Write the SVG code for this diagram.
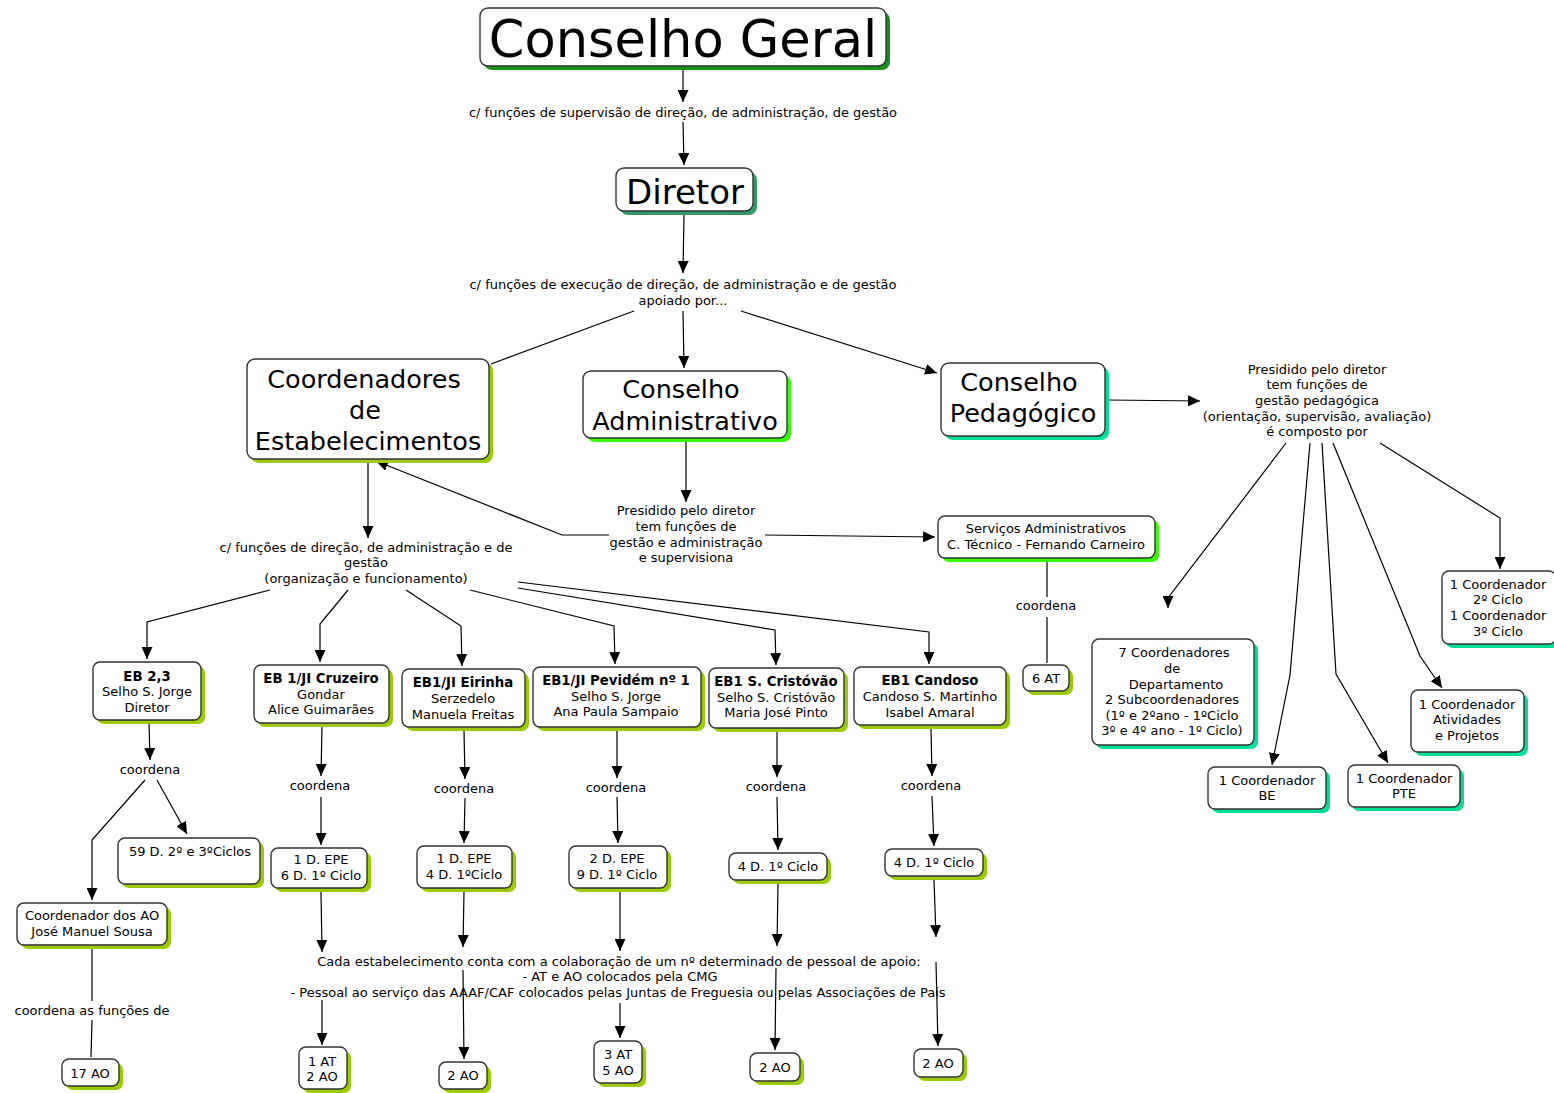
<svg xmlns="http://www.w3.org/2000/svg" width="1554" height="1093" viewBox="0 0 1554 1093">
<defs>
<marker id="ah" markerUnits="userSpaceOnUse" markerWidth="12" markerHeight="11" refX="12" refY="5.5" orient="auto">
<path d="M0,0 L12,5.5 L0,11 z" fill="#000"/>
</marker>
<style>
rect.b{fill:#fff;stroke:#333;stroke-width:1.4}
.s1{fill:#1a8f1a}.s2{fill:#339966}.s3{fill:#99cc00}.s4{fill:#33ff00}.s5{fill:#00dd99}
text{font-family:"DejaVu Sans","Liberation Sans",sans-serif;fill:#000;text-anchor:middle;font-size:13px}
.bd{font-weight:bold;font-size:13.3px}
.lg{font-size:25.5px}
#links path{fill:none;stroke:#000;stroke-width:1.2}
#links path.a{marker-end:url(#ah)}
</style>
</defs>
<rect width="1554" height="1093" fill="#fff"/>
<g id="links">
<path class="a" d="M683,66 L683,102"/>
<path class="a" d="M683,122 L684,165"/>
<path class="a" d="M684,214 L683,273"/>
<path d="M634,311 L491,364"/>
<path class="a" d="M683,311 L684,368"/>
<path class="a" d="M741,311 L937,373"/>
<path class="a" d="M1108,400 L1200,401"/>
<path class="a" d="M1286,443 L1168,598 L1168,608"/>
<path class="a" d="M1310,443 L1290,675 L1272,765"/>
<path class="a" d="M1322,443 L1336,674 L1388,763"/>
<path class="a" d="M1333,443 L1420,656 L1442,688"/>
<path class="a" d="M1380,443 L1500,518 L1500,569"/>
<path class="a" d="M686,441 L686,502"/>
<path class="a" d="M609,535 L562,535 L376,461"/>
<path class="a" d="M765,535 L935,537"/>
<path d="M1047,562 L1047,597"/>
<path d="M1047,617 L1047,663"/>
<path class="a" d="M368,462 L368,538"/>
<path class="a" d="M270,590 L147,622 L147,659"/>
<path class="a" d="M348,590 L320,624 L320,662"/>
<path class="a" d="M406,590 L461,626 L462,666"/>
<path class="a" d="M470,590 L614,626 L615,664"/>
<path class="a" d="M518,588 L775,630 L776,665"/>
<path class="a" d="M518,582 L929,632 L929,664"/>
<path class="a" d="M149,722 L150,760"/>
<path class="a" d="M145,780 L92,840 L92,900"/>
<path class="a" d="M157,780 L187,834"/>
<path d="M92,948 L92,1001"/>
<path d="M92,1020 L91,1057"/>
<path class="a" d="M322,726 L321,776"/>
<path class="a" d="M321,797 L321,845"/>
<path class="a" d="M321,892 L322,952"/>
<path class="a" d="M322,1000 L322,1045"/>
<path class="a" d="M464,731 L465,779"/>
<path class="a" d="M465,798 L464,843"/>
<path class="a" d="M464,892 L463,947"/>
<path class="a" d="M463,970 L464,1059"/>
<path class="a" d="M617,731 L617,778"/>
<path class="a" d="M617,797 L618,843"/>
<path class="a" d="M620,891 L620,951"/>
<path class="a" d="M620,1003 L620,1038"/>
<path class="a" d="M777,731 L777,777"/>
<path class="a" d="M777,797 L778,850"/>
<path class="a" d="M778,884 L777,946"/>
<path class="a" d="M776,968 L775,1050"/>
<path class="a" d="M931,729 L932,776"/>
<path class="a" d="M932,796 L934,846"/>
<path class="a" d="M934,880 L936,937"/>
<path class="a" d="M936,962 L938,1046"/>
</g>
<g id="labels">
<text x="683" y="117">c/ funções de supervisão de direção, de administração, de gestão</text>
<text x="683" y="289">c/ funções de execução de direção, de administração e de gestão</text>
<text x="683" y="305">apoiado por...</text>
<text x="686" y="515">Presidido pelo diretor</text>
<text x="686" y="531">tem funções de</text>
<text x="686" y="547">gestão e administração</text>
<text x="686" y="562">e supervisiona</text>
<text x="366" y="552">c/ funções de direção, de administração e de</text>
<text x="366" y="567">gestão</text>
<text x="366" y="583">(organização e funcionamento)</text>
<text x="1317" y="374">Presidido pelo diretor</text>
<text x="1317" y="389">tem funções de</text>
<text x="1317" y="405">gestão pedagógica</text>
<text x="1317" y="421">(orientação, supervisão, avaliação)</text>
<text x="1317" y="436">é composto por</text>
<text x="1046" y="610">coordena</text>
<text x="150" y="774">coordena</text>
<text x="320" y="790">coordena</text>
<text x="464" y="793">coordena</text>
<text x="616" y="792">coordena</text>
<text x="776" y="791">coordena</text>
<text x="931" y="790">coordena</text>
<text x="92" y="1015">coordena as funções de</text>
<text x="619" y="966">Cada estabelecimento conta com a colaboração de um nº determinado de pessoal de apoio:</text>
<text x="620" y="981">- AT e AO colocados pela CMG</text>
<text x="618" y="997">- Pessoal ao serviço das AAAF/CAF colocados pelas Juntas de Freguesia ou pelas Associações de Pais</text>
</g>
<g id="n-cg"><rect class="s1" x="484" y="12" width="406" height="58" rx="8"/><rect class="b" x="480" y="8" width="406" height="58" rx="8"/><text x="683" y="57" style="font-size:51px">Conselho Geral</text></g>
<g id="n-dir"><rect class="s2" x="620" y="172" width="137" height="43" rx="8"/><rect class="b" x="616" y="168" width="137" height="43" rx="8"/><text x="685" y="204" style="font-size:34px">Diretor</text></g>
<g id="n-ce"><rect class="s3" x="251" y="363" width="242" height="100" rx="8"/><rect class="b" x="247" y="359" width="242" height="100" rx="8"/><text class="lg" x="364" y="388">Coordenadores</text><text class="lg" x="365" y="419">de</text><text class="lg" x="368" y="450">Estabelecimentos</text></g>
<g id="n-ca"><rect class="s4" x="587" y="375" width="204" height="67" rx="8"/><rect class="b" x="583" y="371" width="204" height="67" rx="8"/><text class="lg" x="681" y="398">Conselho</text><text class="lg" x="685" y="430">Administrativo</text></g>
<g id="n-cp"><rect class="s5" x="945" y="367" width="164" height="73" rx="8"/><rect class="b" x="941" y="363" width="164" height="73" rx="8"/><text class="lg" x="1019" y="391">Conselho</text><text class="lg" x="1023" y="422">Pedagógico</text></g>
<g id="n-sa"><rect class="s4" x="942" y="520" width="217" height="42" rx="7"/><rect class="b" x="938" y="516" width="217" height="42" rx="7"/><text x="1046" y="533">Serviços Administrativos</text><text x="1046" y="549">C. Técnico - Fernando Carneiro</text></g>
<g id="n-6at"><rect class="s3" x="1027" y="669" width="46" height="26" rx="7"/><rect class="b" x="1023" y="665" width="46" height="26" rx="7"/><text x="1046" y="683">6 AT</text></g>
<g id="n-eb23"><rect class="s3" x="97" y="666" width="108" height="58" rx="7"/><rect class="b" x="93" y="662" width="108" height="58" rx="7"/><text class="bd" x="147" y="681">EB 2,3</text><text x="147" y="696">Selho S. Jorge</text><text x="147" y="712">Diretor</text></g>
<g id="n-cruz"><rect class="s3" x="258" y="669" width="135" height="58" rx="7"/><rect class="b" x="254" y="665" width="135" height="58" rx="7"/><text class="bd" x="321" y="683">EB 1/JI Cruzeiro</text><text x="321" y="699">Gondar</text><text x="321" y="714">Alice Guimarães</text></g>
<g id="n-eir"><rect class="s3" x="406" y="673" width="123" height="58" rx="7"/><rect class="b" x="402" y="669" width="123" height="58" rx="7"/><text class="bd" x="463" y="687">EB1/JI Eirinha</text><text x="463" y="703">Serzedelo</text><text x="463" y="719">Manuela Freitas</text></g>
<g id="n-pev"><rect class="s3" x="537" y="671" width="168" height="60" rx="7"/><rect class="b" x="533" y="667" width="168" height="60" rx="7"/><text class="bd" x="616" y="685">EB1/JI Pevidém nº 1</text><text x="616" y="701">Selho S. Jorge</text><text x="616" y="716">Ana Paula Sampaio</text></g>
<g id="n-cri"><rect class="s3" x="713" y="672" width="135" height="60" rx="7"/><rect class="b" x="709" y="668" width="135" height="60" rx="7"/><text class="bd" x="776" y="686">EB1 S. Cristóvão</text><text x="776" y="702">Selho S. Cristóvão</text><text x="776" y="717">Maria José Pinto</text></g>
<g id="n-can"><rect class="s3" x="858" y="671" width="152" height="58" rx="7"/><rect class="b" x="854" y="667" width="152" height="58" rx="7"/><text class="bd" x="930" y="685">EB1 Candoso</text><text x="930" y="701">Candoso S. Martinho</text><text x="930" y="717">Isabel Amaral</text></g>
<g id="n-59d"><rect class="s3" x="122" y="842" width="142" height="46" rx="7"/><rect class="b" x="118" y="838" width="142" height="46" rx="7"/><text x="190" y="856">59 D. 2º e 3ºCiclos</text></g>
<g id="n-cao"><rect class="s3" x="21" y="907" width="150" height="42" rx="7"/><rect class="b" x="17" y="903" width="150" height="42" rx="7"/><text x="92" y="920">Coordenador dos AO</text><text x="92" y="936">José Manuel Sousa</text></g>
<g id="n-d1"><rect class="s3" x="275" y="852" width="96" height="40" rx="7"/><rect class="b" x="271" y="848" width="96" height="40" rx="7"/><text x="321" y="864">1 D. EPE</text><text x="321" y="880">6 D. 1º Ciclo</text></g>
<g id="n-d2"><rect class="s3" x="421" y="850" width="95" height="42" rx="7"/><rect class="b" x="417" y="846" width="95" height="42" rx="7"/><text x="464" y="863">1 D. EPE</text><text x="464" y="879">4 D. 1ºCiclo</text></g>
<g id="n-d3"><rect class="s3" x="573" y="850" width="98" height="42" rx="7"/><rect class="b" x="569" y="846" width="98" height="42" rx="7"/><text x="617" y="863">2 D. EPE</text><text x="617" y="879">9 D. 1º Ciclo</text></g>
<g id="n-d4"><rect class="s3" x="733" y="857" width="98" height="27" rx="7"/><rect class="b" x="729" y="853" width="98" height="27" rx="7"/><text x="778" y="871">4 D. 1º Ciclo</text></g>
<g id="n-d5"><rect class="s3" x="889" y="853" width="98" height="27" rx="7"/><rect class="b" x="885" y="849" width="98" height="27" rx="7"/><text x="934" y="867">4 D. 1º Ciclo</text></g>
<g id="n-p1"><rect class="s3" x="303" y="1051" width="48" height="42" rx="7"/><rect class="b" x="299" y="1047" width="48" height="42" rx="7"/><text x="322" y="1066">1 AT</text><text x="322" y="1081">2 AO</text></g>
<g id="n-p2"><rect class="s3" x="443" y="1066" width="48" height="27" rx="7"/><rect class="b" x="439" y="1062" width="48" height="27" rx="7"/><text x="463" y="1080">2 AO</text></g>
<g id="n-p3"><rect class="s3" x="598" y="1045" width="48" height="42" rx="7"/><rect class="b" x="594" y="1041" width="48" height="42" rx="7"/><text x="618" y="1059">3 AT</text><text x="618" y="1075">5 AO</text></g>
<g id="n-p4"><rect class="s3" x="754" y="1057" width="50" height="28" rx="7"/><rect class="b" x="750" y="1053" width="50" height="28" rx="7"/><text x="775" y="1072">2 AO</text></g>
<g id="n-p5"><rect class="s3" x="918" y="1053" width="49" height="28" rx="7"/><rect class="b" x="914" y="1049" width="49" height="28" rx="7"/><text x="938" y="1068">2 AO</text></g>
<g id="n-17ao"><rect class="s3" x="66" y="1063" width="57" height="27" rx="7"/><rect class="b" x="62" y="1059" width="57" height="27" rx="7"/><text x="90" y="1078">17 AO</text></g>
<g id="n-7c"><rect class="s5" x="1096" y="643" width="162" height="106" rx="7"/><rect class="b" x="1092" y="639" width="162" height="106" rx="7"/><text x="1174" y="657">7 Coordenadores</text><text x="1172" y="673">de</text><text x="1176" y="689">Departamento</text><text x="1172" y="704">2 Subcoordenadores</text><text x="1172" y="720">(1º e 2ºano - 1ºCiclo</text><text x="1172" y="735">3º e 4º ano - 1º Ciclo)</text></g>
<g id="n-be"><rect class="s5" x="1212" y="771" width="118" height="42" rx="7"/><rect class="b" x="1208" y="767" width="118" height="42" rx="7"/><text x="1267" y="785">1 Coordenador</text><text x="1267" y="800">BE</text></g>
<g id="n-pte"><rect class="s5" x="1352" y="769" width="112" height="42" rx="7"/><rect class="b" x="1348" y="765" width="112" height="42" rx="7"/><text x="1404" y="783">1 Coordenador</text><text x="1404" y="798">PTE</text></g>
<g id="n-ap"><rect class="s5" x="1415" y="694" width="113" height="62" rx="7"/><rect class="b" x="1411" y="690" width="113" height="62" rx="7"/><text x="1467" y="709">1 Coordenador</text><text x="1467" y="724">Atividades</text><text x="1467" y="740">e Projetos</text></g>
<g id="n-ciclos"><rect class="s5" x="1446" y="575" width="114" height="73" rx="7"/><rect class="b" x="1442" y="571" width="114" height="73" rx="7"/><text x="1498" y="589">1 Coordenador</text><text x="1498" y="604">2º Ciclo</text><text x="1498" y="620">1 Coordenador</text><text x="1498" y="636">3º Ciclo</text></g>
</svg>
